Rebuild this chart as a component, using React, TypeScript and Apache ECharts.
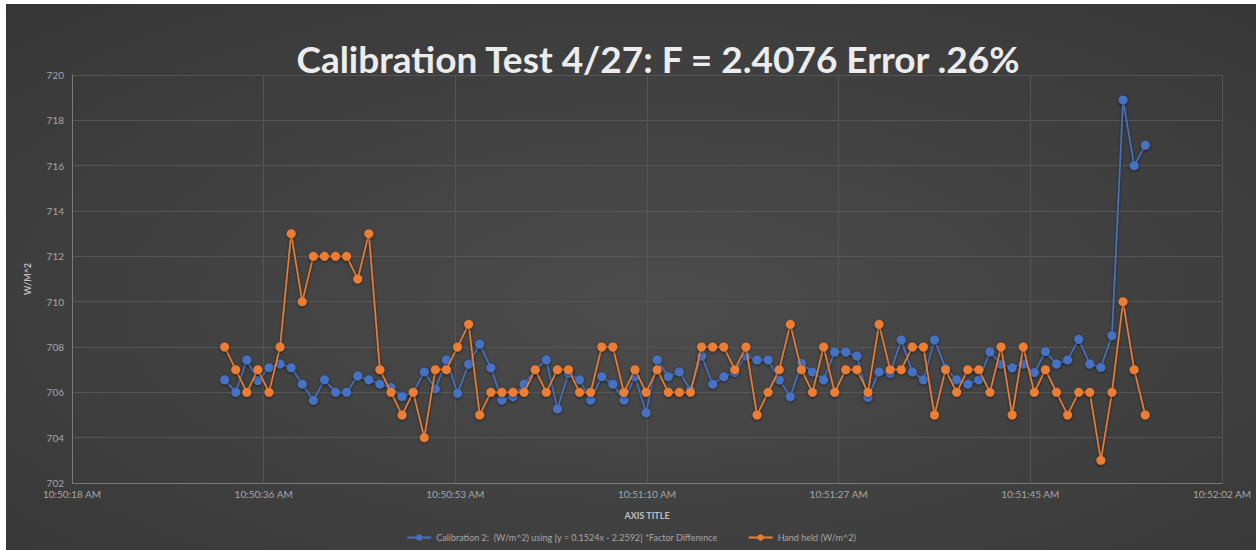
import React, { useEffect, useRef } from "react";
import * as echarts from "echarts";

// Axis starts at 10:50:18.24 (Excel serial 0.4516), major unit 0.0002 day = 17.28 s
const AXIS_START_SECONDS = 39018.24;
const TICK_STEP = 17.28;
const TICK_COUNT = 6;
const SAMPLE_START = "10:50:32";
const SAMPLE_STEP_S = 1;

const Y_MIN = 702;
const Y_MAX = 720;
const Y_STEP = 2;

const TITLE = "Calibration Test 4/27: F = 2.4076 Error .26%";
const SERIES_NAMES = [
  "Calibration 2:  (W/m^2) using [y = 0.1524x - 2.2592] *Factor Difference",
  "Hand held (W/m^2)",
];

const calibration = [
  706.55, 706.0, 707.43, 706.52, 707.09, 707.25, 707.09, 706.36, 705.65, 706.55,
  706.0, 706.0, 706.72, 706.55, 706.36, 706.21, 705.81, 706.0, 706.9, 706.15,
  707.43, 705.96, 707.24, 708.13, 707.08, 705.66, 705.81, 706.36, 706.99, 707.43,
  705.27, 706.84, 706.55, 705.66, 706.69, 706.36, 705.66, 706.69, 705.1, 707.43,
  706.69, 706.9, 706.1, 707.6, 706.36, 706.69, 706.87, 707.6, 707.43, 707.43,
  706.55, 705.81, 707.28, 706.9, 706.55, 707.78, 707.78, 707.6, 705.78, 706.9,
  706.84, 708.31, 706.9, 706.55, 708.31, 707.06, 706.55, 706.36, 706.55, 707.78,
  707.24, 707.08, 707.25, 706.87, 707.8, 707.25, 707.43, 708.34, 707.25, 707.1,
  708.5, 718.9, 716.0, 716.9,
];

const handHeld = [
  708, 707, 706, 707, 706, 708, 713, 710, 712, 712,
  712, 712, 711, 713, 707, 706, 705, 706, 704, 707,
  707, 708, 709, 705, 706, 706, 706, 706, 707, 706,
  707, 707, 706, 706, 708, 708, 706, 707, 706, 707,
  706, 706, 706, 708, 708, 708, 707, 708, 705, 706,
  707, 709, 707, 706, 708, 706, 707, 707, 706, 709,
  707, 707, 708, 708, 705, 707, 706, 707, 707, 706,
  708, 705, 708, 706, 707, 706, 705, 706, 706, 703,
  706, 710, 707, 705,
];

const BLUE = "#4472C4";
const ORANGE = "#ED7D31";
const FONT = "Lato, 'Open Sans', sans-serif";

function toSeconds(t: string): number {
  const [h, m, s] = t.split(":").map(Number);
  return h * 3600 + m * 60 + s;
}
function pad(n: number): string {
  return n < 10 ? "0" + n : String(n);
}
function formatTime(v: number): string {
  const s = Math.round(AXIS_START_SECONDS + v);
  const h = Math.floor(s / 3600);
  const m = Math.floor((s % 3600) / 60);
  const sec = s % 60;
  const ap = h >= 12 ? "PM" : "AM";
  const h12 = ((h + 11) % 12) + 1;
  return `${h12}:${pad(m)}:${pad(sec)} ${ap}`;
}

const startOffset = toSeconds(SAMPLE_START) - AXIS_START_SECONDS;
const toPairs = (vals: number[]) =>
  vals.map((v, i) => [startOffset + i * SAMPLE_STEP_S, v]);

export default function App() {
  const ref = useRef<HTMLDivElement>(null);
  useEffect(() => {
    if (!ref.current) return;
    const chart = echarts.init(ref.current, undefined, { renderer: "svg" });
    const shadow = {
      shadowBlur: 3,
      shadowColor: "rgba(0,0,0,0.55)",
      shadowOffsetX: 0,
      shadowOffsetY: 1,
    };
    chart.setOption({
      animation: false,
      backgroundColor: {
        type: "radial",
        x: 0.52,
        y: 0.55,
        r: 1.15,
        colorStops: [
          { offset: 0, color: "#4c4c4c" },
          { offset: 0.6, color: "#383838" },
          { offset: 1, color: "#202020" },
        ],
      },
      textStyle: { fontFamily: FONT },
      graphic: [
        {
          type: "text",
          x: 652,
          y: 54,
          style: {
            text: TITLE,
            fill: "#ececec",
            font: `bold 37px ${FONT}`,
            textAlign: "center",
            textVerticalAlign: "middle",
            shadowBlur: 3,
            shadowColor: "rgba(0,0,0,0.6)",
            shadowOffsetY: 1,
          },
        },
      ],
      grid: { left: 66, right: 34, top: 71, bottom: 67 },
      legend: {
        bottom: 3,
        left: "center",
        itemWidth: 24,
        itemHeight: 8,
        itemGap: 30,
        textStyle: { color: "#a6a6a6", fontSize: 9, fontFamily: FONT },
        data: SERIES_NAMES,
      },
      xAxis: {
        type: "value",
        min: 0,
        max: TICK_STEP * TICK_COUNT,
        interval: TICK_STEP,
        name: "AXIS TITLE",
        nameLocation: "middle",
        nameGap: 28,
        nameTextStyle: { color: "#bfbfbf", fontSize: 9, fontWeight: "bold", fontFamily: FONT },
        axisLine: { show: true, lineStyle: { color: "#7a7a7a", width: 1 } },
        axisTick: { show: false },
        axisLabel: {
          color: "#a6a6a6",
          fontSize: 10,
          margin: 6,
          showMinLabel: true,
          showMaxLabel: true,
          formatter: (v: number) => formatTime(v),
        },
        splitLine: { show: true, lineStyle: { color: "#555555", width: 1 } },
      },
      yAxis: {
        type: "value",
        min: Y_MIN,
        max: Y_MAX,
        interval: Y_STEP,
        name: "W/M^2",
        nameLocation: "middle",
        nameRotate: 90,
        nameGap: 40,
        nameTextStyle: { color: "#bfbfbf", fontSize: 9, fontWeight: "bold", fontFamily: FONT },
        axisLine: { show: true, lineStyle: { color: "#7a7a7a", width: 1 } },
        axisTick: { show: false },
        axisLabel: { color: "#a6a6a6", fontSize: 10, margin: 8 },
        splitLine: { show: true, lineStyle: { color: "#555555", width: 1 } },
      },
      series: [
        {
          name: SERIES_NAMES[0],
          type: "line",
          data: toPairs(calibration),
          symbol: "circle",
          symbolSize: 9,
          lineStyle: { color: BLUE, width: 1.6, ...shadow },
          itemStyle: { color: BLUE, ...shadow },
          z: 2,
        },
        {
          name: SERIES_NAMES[1],
          type: "line",
          data: toPairs(handHeld),
          symbol: "circle",
          symbolSize: 9,
          lineStyle: { color: ORANGE, width: 1.6, ...shadow },
          itemStyle: { color: ORANGE, ...shadow },
          z: 3,
        },
      ],
    });
    return () => chart.dispose();
  }, []);
  return (
    <div
      style={{
        position: "fixed",
        left: 0,
        top: 0,
        width: 1256,
        height: 550,
        background: "#ffffff",
      }}
    >
      <div
        ref={ref}
        style={{ position: "absolute", left: 6, top: 4, width: 1250, height: 546 }}
      />
    </div>
  );
}
